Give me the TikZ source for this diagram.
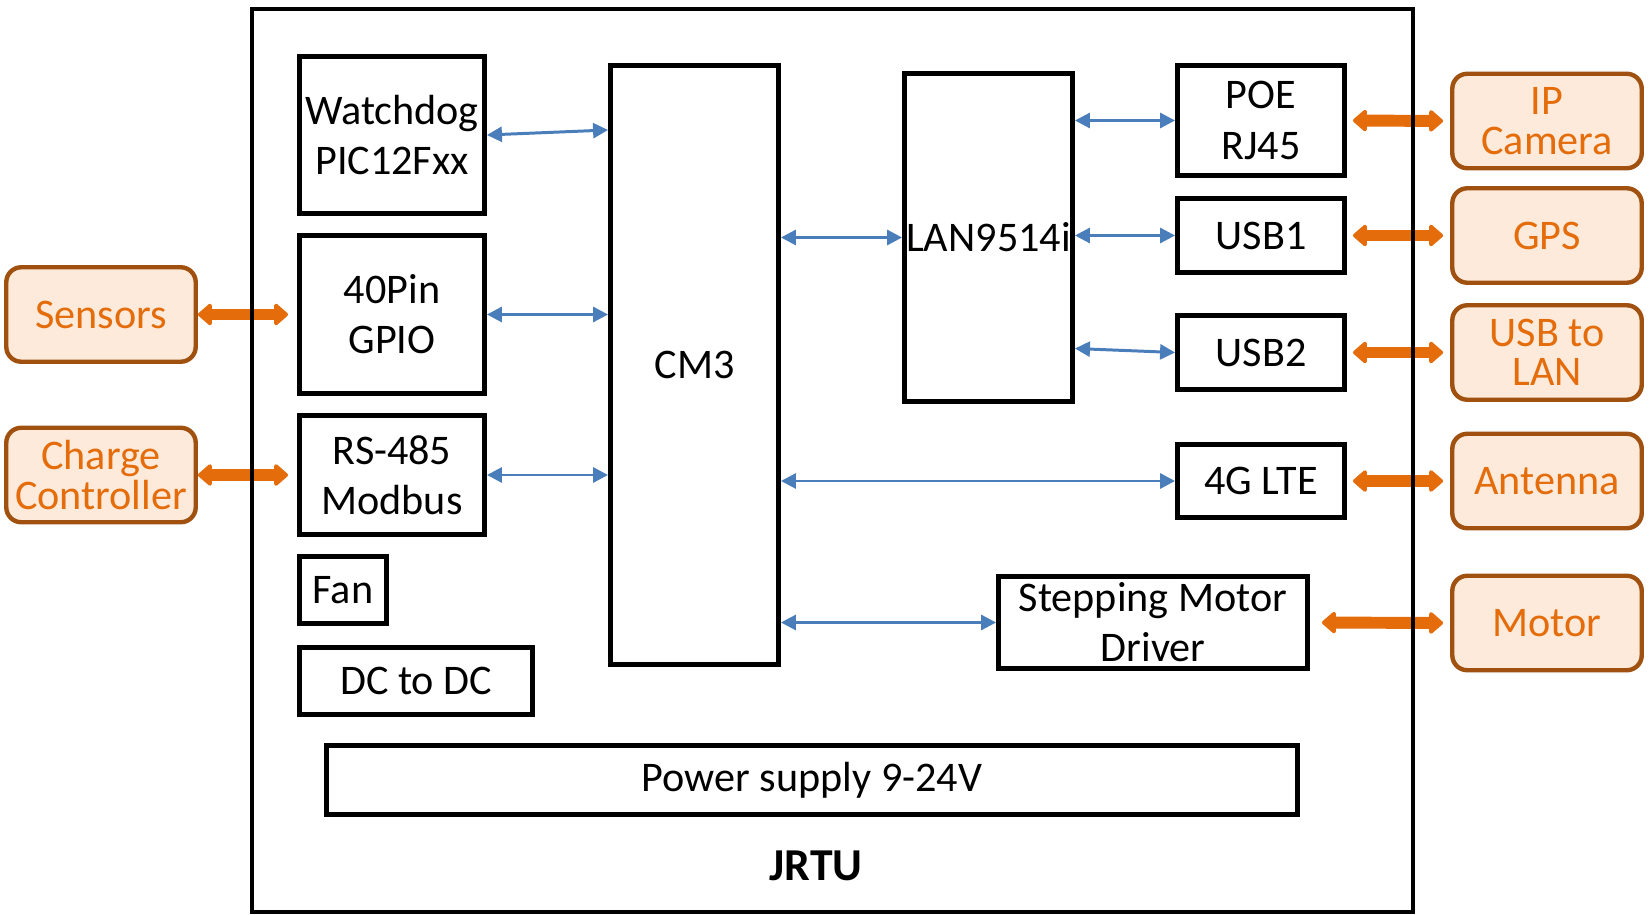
\documentclass[tikz,border=0pt]{standalone}
\usepackage{fontspec}
\setmainfont{Carlito}
\usepackage{tikz}
\usetikzlibrary{positioning, arrows.meta, calc}
\definecolor{linkblue}{HTML}{4A7EBB}
\definecolor{ioorange}{HTML}{E46C0A}
\definecolor{iofill}{HTML}{FDEADA}
\definecolor{ioedge}{HTML}{A0500F}
\tikzset{
  block/.style={rectangle, draw, line width=2.8pt, inner sep=0pt, align=center, font=\fontsize{24}{28.5}\selectfont},
  extblock/.style={rectangle, rounded corners=0.3cm, draw=ioedge, fill=iofill, line width=2.5pt, inner sep=0pt, align=center, text=ioorange, font=\fontsize{24}{22.5}\selectfont, minimum width=3.79cm, minimum height=1.89cm},
  link/.style={{Triangle[length=0.3cm, width=0.3cm]}-{Triangle[length=0.3cm, width=0.3cm]}, draw=linkblue, line width=1.7pt},
  iolink/.style={{Triangle[round, length=0.3cm, width=0.5cm]}-{Triangle[round, length=0.3cm, width=0.5cm]}, draw=ioorange, line width=6.8pt},
}

\begin{document}
\begin{tikzpicture}[x=0.02cm, y=-0.02cm]
  \useasboundingbox (0,0) rectangle (1652,915);

  % Inner blocks, left column
  \node[block, minimum width=3.7cm, minimum height=3.14cm] (watchdog) at (392,135) {Watchdog\\PIC12Fxx};
  \node[block, minimum width=3.7cm, minimum height=3.16cm] (gpio) at (392,314.5) {40Pin\\GPIO};
  \node[block, minimum width=3.7cm, minimum height=2.38cm] (rs485) at (392,475) {RS-485\\Modbus};
  \node[block, minimum width=1.74cm, minimum height=1.34cm] (fan) at (343,590) {Fan};
  \node[block, minimum width=4.66cm, minimum height=1.34cm] (dcdc) at (416,681) {DC to DC};
  \node[block, minimum width=19.42cm, minimum height=1.38cm] (power) at (812,780) {Power supply 9-24V};

  % Core and hub
  \node[block, minimum width=3.36cm, minimum height=11.98cm] (cm3) at (694.5,365) {CM3};
  \node[block, minimum width=3.36cm, minimum height=6.56cm] (lan) at (988.5,237.5) {LAN9514i};

  % Ports, right column
  \node[block, minimum width=3.34cm, minimum height=2.2cm] (poe) at (1261,120.5) {POE\\RJ45};
  \node[block, minimum width=3.34cm, minimum height=1.48cm] (usb1) at (1261,235.5) {USB1};
  \node[block, minimum width=3.34cm, minimum height=1.48cm] (usb2) at (1261,352.5) {USB2};
  \node[block, minimum width=3.34cm, minimum height=1.46cm] (lte) at (1261,481) {4G LTE};
  \node[block, minimum width=6.18cm, minimum height=1.84cm] (stepper) at (1153,622.5) {Stepping Motor\\Driver};

  % External devices
  \node[extblock] (sensors) at (101,314.5) {Sensors};
  \node[extblock] (charge) at (101,475) {Charge\\Controller};
  \node[extblock] (ipcam) at (1547,121) {IP\\Camera};
  \node[extblock] (gps) at (1547,235.5) {GPS};
  \node[extblock] (usblan) at (1547,352.5) {USB to\\LAN};
  \node[extblock] (antenna) at (1547,481) {Antenna};
  \node[extblock] (motor) at (1547,623) {Motor};

  % Internal links
  \draw[link] (watchdog.east) -- ($(cm3.west |- watchdog.east)+(0,-5)$);
  \draw[link] (gpio.east) -- (cm3.west |- gpio.east);
  \draw[link] (rs485.east) -- (cm3.west |- rs485.east);
  \draw[link] (cm3.east |- lan.west) -- (lan.west);
  \draw[link] (lan.east |- poe.west) -- (poe.west);
  \draw[link] (lan.east |- usb1.west) -- (usb1.west);
  \draw[link] ($(lan.east |- usb2.west)+(0,-4)$) -- (usb2.west);
  \draw[link] (cm3.east |- lte.west) -- (lte.west);
  \draw[link] (cm3.east |- stepper.west) -- (stepper.west);

  % External links
  \draw[iolink, shorten >=0.18cm] (sensors.east) -- (gpio.west);
  \draw[iolink, shorten >=0.18cm] (charge.east) -- (rs485.west);
  \draw[iolink, shorten <=0.12cm, shorten >=0.14cm] (poe.east) -- (ipcam.west);
  \draw[iolink, shorten <=0.12cm, shorten >=0.14cm] (usb1.east) -- (gps.west);
  \draw[iolink, shorten <=0.12cm, shorten >=0.14cm] (usb2.east) -- (usblan.west);
  \draw[iolink, shorten <=0.12cm, shorten >=0.14cm] (lte.east) -- (antenna.west);
  \draw[iolink, shorten <=0.24cm, shorten >=0.14cm] (stepper.east) -- (motor.west);

  % Enclosure
  \draw[line width=2.8pt] (252,9) rectangle (1413,912);
  \node[font=\fontsize{26}{30}\selectfont\bfseries] (jrtu) at (816,866) {JRTU};

\end{tikzpicture}
\end{document}
